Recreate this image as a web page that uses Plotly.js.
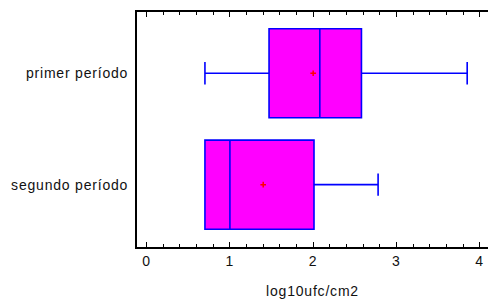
<!DOCTYPE html>
<html>
<head>
<meta charset="utf-8">
<script src="https://cdn.plot.ly/plotly-3.0.1.min.js"></script>
<style>
html,body{margin:0;padding:0;background:#fff;}
#chart{width:488px;height:299px;}
#chart svg text{letter-spacing:0.8px;}
</style>
</head>
<body>
<div id="chart"></div>
<script>
// Data
const categories = ['primer período', 'segundo período'];
const lowerWhisker = [0.70, 0.70];
const q1Values = [1.47, 0.70];
const medianValues = [2.08, 1.00];
const q3Values = [2.58, 2.01];
const upperWhisker = [3.85, 2.78];
const meanValues = [2.00, 1.40];
const xTickVals = [0, 1, 2, 3, 4];
const xTickText = ['0', '1', '2', '3', '4'];

const font = {family: 'Liberation Sans, Arial, sans-serif', size: 14, color: '#111'};

const boxTrace = {
  type: 'box',
  orientation: 'h',
  y: categories,
  q1: q1Values,
  median: medianValues,
  q3: q3Values,
  lowerfence: lowerWhisker,
  upperfence: upperWhisker,
  fillcolor: '#FF00FF',
  line: {color: '#0000FF', width: 1.6},
  width: 0.8,
  whiskerwidth: 0.25,
  boxpoints: false,
  hoverinfo: 'skip',
  showlegend: false
};

const meanTrace = {
  type: 'scatter',
  mode: 'markers',
  x: meanValues,
  y: categories,
  marker: {symbol: 'cross-thin', size: 4, line: {color: '#FF0000', width: 1.5}, color: '#FF0000'},
  hoverinfo: 'skip',
  showlegend: false
};

const layout = {
  width: 488,
  height: 299,
  margin: {l: 137, r: 0, t: 12, b: 52},
  paper_bgcolor: '#fff',
  plot_bgcolor: '#fff',
  font: font,
  showlegend: false,
  xaxis: {
    range: [-0.116, 4.1],
    tickvals: xTickVals,
    ticktext: xTickText,
    ticks: 'inside',
    ticklen: 5,
    tickwidth: 1,
    tickcolor: '#000',
    minor: {dtick: 0.2, ticks: 'inside', ticklen: 3, tickwidth: 1, tickcolor: '#000', showgrid: false},
    showline: true,
    linecolor: '#000',
    linewidth: 2,
    mirror: 'ticks',
    showgrid: false,
    zeroline: false,
    tickfont: font,
    title: {text: 'log10ufc/cm2', font: font, standoff: 18}
  },
  yaxis: {
    type: 'category',
    categoryorder: 'array',
    categoryarray: ['segundo período', 'primer período'],
    range: [-0.56, 1.55],
    showline: true,
    linecolor: '#000',
    linewidth: 2,
    ticks: '',
    showgrid: false,
    zeroline: false,
    tickfont: font,
    ticklabelstandoff: 4
  }
};

Plotly.newPlot('chart', [boxTrace, meanTrace], layout, {displayModeBar: false, staticPlot: true});
</script>
</body>
</html>
